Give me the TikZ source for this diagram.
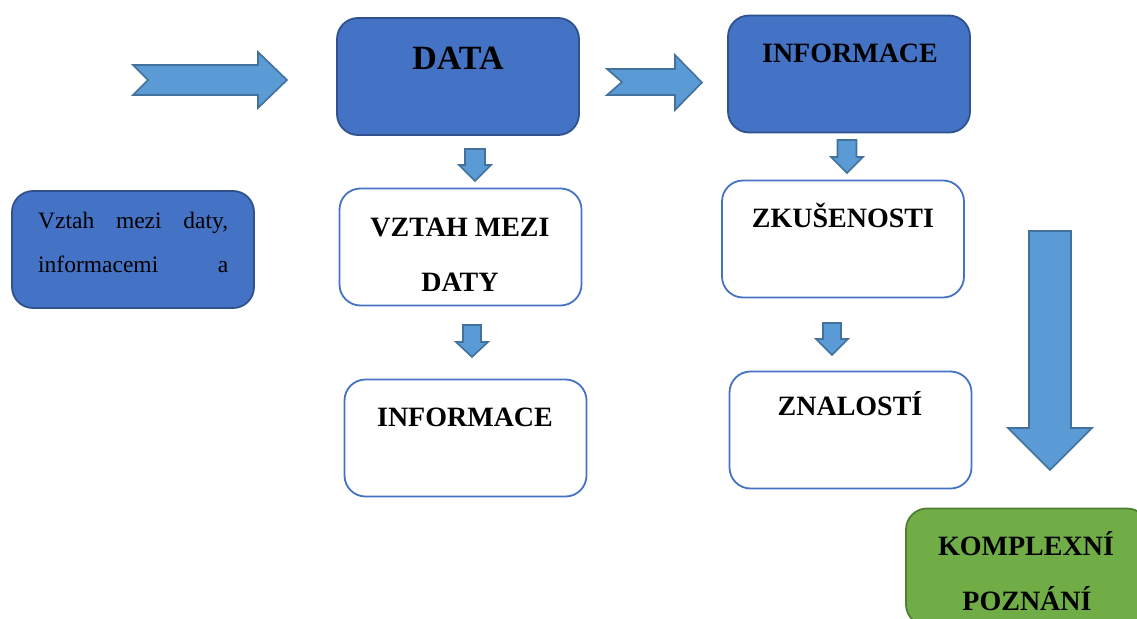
\documentclass[tikz,border=0pt]{standalone}
\usepackage{fontspec}
\setmainfont{Liberation Serif}
\definecolor{dkblue}{HTML}{4472C4}
\definecolor{dkbord}{HTML}{2F528F}
\definecolor{arfill}{HTML}{5B9BD5}
\definecolor{arbord}{HTML}{41719C}
\definecolor{grfill}{HTML}{70AD47}
\definecolor{grbord}{HTML}{507E32}
\begin{document}
\begin{tikzpicture}[x=1pt,y=-1pt,
  boxbase/.style={rectangle,rounded corners=21pt,minimum width=242pt,minimum height=117pt,line width=1.8pt,inner sep=0pt},
  darkbox/.style={boxbase,fill=dkblue,draw=dkbord},
  whitebox/.style={boxbase,fill=white,draw=dkblue},
  greenbox/.style={boxbase,fill=grfill,draw=grbord},
  blockarrow/.style={fill=arfill,draw=arbord,line width=1.6pt,line join=miter},
  lbl/.style={anchor=base,inner sep=0pt,font=\fontsize{28}{30}\selectfont\bfseries},
  bigl/.style={anchor=base,inner sep=0pt,font=\fontsize{34}{36}\selectfont\bfseries}]
\useasboundingbox (0,0) rectangle (1137,618);

% boxes
\node[darkbox] (rel) at (133,249.5) {};
\node[darkbox] (data) at (458,76.5) {};
\node[darkbox] (info) at (849,74) {};
\node[whitebox] (vztah) at (460.5,247) {};
\node[whitebox] (info2) at (465.5,438) {};
\node[whitebox] (zkus) at (843,239) {};
\node[whitebox] (znal) at (850.5,430) {};
\node[greenbox] (komp) at (1027,567) {};

% texts
\node[anchor=base west,inner sep=0pt,font=\fontsize{23.5}{44}\selectfont,text width=190pt] (reltext) at (38,228)
  {Vztah\hfill mezi\hfill daty,\\[0pt]informacemi\hfill a};
\node[bigl] (datat) at (458,70) {DATA};
\node[lbl] (infot) at (850,63) {INFORMACE};
\node[lbl] (vztaht1) at (460,236) {VZTAH MEZI};
\node[lbl] (vztaht2) at (460,291) {DATY};
\node[lbl] (info2t) at (465,426) {INFORMACE};
\node[lbl] (zkust) at (843,227) {ZKUŠENOSTI};
\node[lbl] (znalt) at (850,415) {ZNALOSTÍ};
\node[lbl] (kompt1) at (1026,555) {KOMPLEXNÍ};
\node[lbl] (kompt2) at (1027,610) {POZNÁNÍ};

% horizontal block arrows
\draw[blockarrow] (133,65) -- (258,65) -- (258,52) -- (287,80) -- (258,108) -- (258,95) -- (133,95) -- (148,80) -- cycle;
\draw[blockarrow] (607,69) -- (675,69) -- (675,55) -- (702,82.5) -- (675,110) -- (675,95) -- (607,95) -- (622,82) -- cycle;

% small down arrows
\draw[blockarrow] (465,149) -- (485,149) -- (485,165) -- (491,165) -- (475,181) -- (459,165) -- (465,165) -- cycle;
\draw[blockarrow] (463,325) -- (481,325) -- (481,342) -- (488,342) -- (472,357) -- (456,342) -- (463,342) -- cycle;
\draw[blockarrow] (837.5,140) -- (856.5,140) -- (856.5,157) -- (863,157) -- (847,173) -- (831,157) -- (837.5,157) -- cycle;
\draw[blockarrow] (823,323) -- (841,323) -- (841,339) -- (848,339) -- (832,355) -- (816,339) -- (823,339) -- cycle;

% big down arrow
\draw[blockarrow] (1029,231) -- (1071,231) -- (1071,428) -- (1092,428) -- (1050,470) -- (1008,428) -- (1029,428) -- cycle;
\end{tikzpicture}
\end{document}
